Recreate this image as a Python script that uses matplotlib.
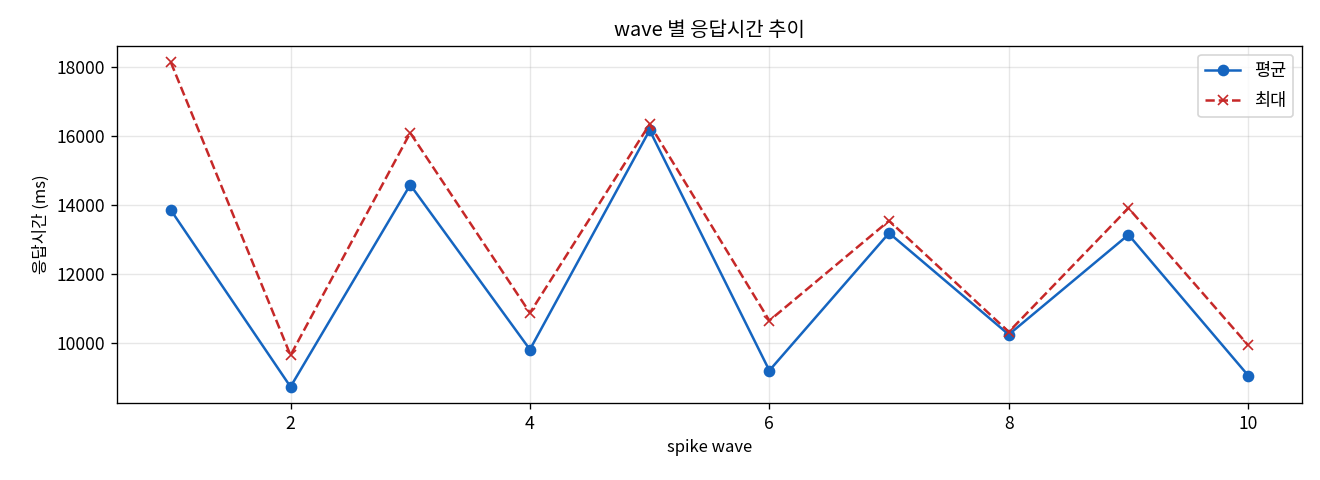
import matplotlib
matplotlib.use('Agg')
import matplotlib.pyplot as plt

plt.rcParams['font.family'] = ['Noto Sans CJK KR', 'DejaVu Sans']
plt.rcParams['axes.unicode_minus'] = False

# wave 별 응답시간 (ms)
waves = [1, 2, 3, 4, 5, 6, 7, 8, 9, 10]
avg_ms = [13855, 8725, 14588, 9806, 16174, 9197, 13188, 10241, 13139, 9052]
max_ms = [18145, 9640, 16096, 10870, 16348, 10646, 13545, 10319, 13913, 9930]

fig, ax = plt.subplots(figsize=(11, 4), dpi=120)
ax.plot(waves, avg_ms, marker='o', color='#1565C0', label='평균')
ax.plot(waves, max_ms, marker='x', linestyle='--', color='#C62828', label='최대')

ax.set_title('wave 별 응답시간 추이', fontsize=12)
ax.set_xlabel('spike wave', fontsize=10)
ax.set_ylabel('응답시간 (ms)', fontsize=10)
ax.tick_params(labelsize=10.5)
ax.grid(True, alpha=0.3)
ax.legend(loc='upper right', fontsize=10.5, labelspacing=0.7)

fig.subplots_adjust(left=0.0886, right=0.9864, top=0.904, bottom=0.1604)
plt.savefig('out.png')
